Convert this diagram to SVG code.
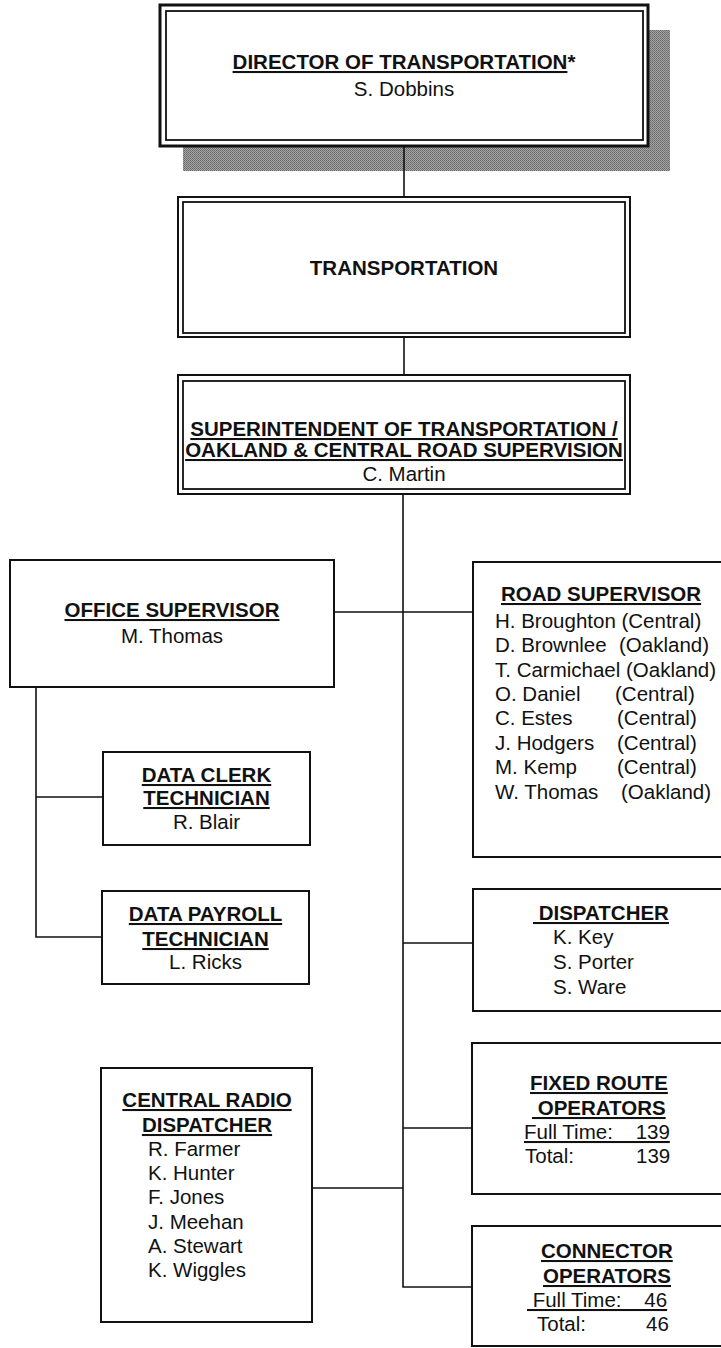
<svg xmlns="http://www.w3.org/2000/svg" width="721" height="1348" viewBox="0 0 721 1348">
  <defs>
    <!-- grainy grey fill for the drop shadow -->
    <pattern id="dither" width="2" height="2" patternUnits="userSpaceOnUse">
      <rect width="2" height="2" fill="#a4a4a4"/>
      <rect width="1" height="1" fill="#686868"/>
      <rect x="1" y="1" width="1" height="1" fill="#787878"/>
    </pattern>
    <style>
      .box{fill:#fff;stroke:#111;stroke-width:2}
      .inner{fill:none;stroke:#111;stroke-width:1.8}
      .wire{fill:none;stroke:#111;stroke-width:1.6}
      text{font-family:"Liberation Sans",Arial,sans-serif;font-size:20.5px;fill:#111}
      .b{font-weight:bold}
      .u{text-decoration:underline}
      .c{text-anchor:middle}
    </style>
  </defs>
  <rect width="721" height="1348" fill="#fff"/>

  <!-- top box with drop shadow -->
  <g id="director">
    <rect x="183" y="30" width="487" height="141" fill="url(#dither)"/>
    <rect x="160" y="5" width="488" height="141" fill="#fff" stroke="#111" stroke-width="3"/>
    <rect x="166" y="11" width="477" height="129" class="inner"/>
    <text class="b c" x="404" y="69"><tspan class="u">DIRECTOR OF TRANSPORTATION</tspan>*</text>
    <text class="c" x="404" y="96">S. Dobbins</text>
  </g>

  <!-- connectors -->
  <g id="connectors" class="wire">
    <line x1="404" y1="146" x2="404" y2="197"/>
    <line x1="404" y1="337" x2="404" y2="375"/>
    <polyline points="403,494 403,1287 472,1287"/>
    <line x1="334" y1="612" x2="473" y2="612"/>
    <line x1="403" y1="943" x2="473" y2="943"/>
    <line x1="403" y1="1128" x2="472" y2="1128"/>
    <line x1="312" y1="1188" x2="403" y2="1188"/>
    <polyline points="36,687 36,937 102,937"/>
    <line x1="36" y1="797" x2="103" y2="797"/>
  </g>

  <g id="transportation">
    <rect x="178" y="197" width="452" height="140" class="box" stroke-width="1.4"/>
    <rect x="183" y="202" width="442" height="131" class="inner"/>
    <text class="b c" x="404" y="275">TRANSPORTATION</text>
  </g>

  <g id="superintendent">
    <rect x="178" y="375" width="452" height="119" class="box" stroke-width="1.4"/>
    <rect x="183" y="381" width="442" height="108" class="inner"/>
    <text class="b u c" x="404" y="436">SUPERINTENDENT OF TRANSPORTATION /</text>
    <text class="b u c" x="404" y="457">OAKLAND &amp; CENTRAL ROAD SUPERVISION</text>
    <text class="c" x="404" y="481">C. Martin</text>
  </g>

  <g id="office-supervisor">
    <rect x="10" y="560" width="324" height="127" class="box"/>
    <text class="b u c" x="172" y="617">OFFICE SUPERVISOR</text>
    <text class="c" x="172" y="643">M. Thomas</text>
  </g>

  <g id="road-supervisor">
    <rect x="473" y="562" width="260" height="295" class="box"/>
    <text class="b u" x="501" y="601">ROAD SUPERVISOR</text>
    <text x="495" y="628">H. Broughton (Central)</text>
    <text x="495" y="652">D. Brownlee<tspan x="619">(Oakland)</tspan></text>
    <text x="495" y="677">T. Carmichael (Oakland)</text>
    <text x="495" y="701">O. Daniel<tspan x="615">(Central)</tspan></text>
    <text x="495" y="725">C. Estes<tspan x="617">(Central)</tspan></text>
    <text x="495" y="750">J. Hodgers<tspan x="617">(Central)</tspan></text>
    <text x="495" y="774">M. Kemp<tspan x="617">(Central)</tspan></text>
    <text x="495" y="799">W. Thomas<tspan x="621">(Oakland)</tspan></text>
  </g>

  <g id="data-clerk">
    <rect x="103" y="752" width="207" height="93" class="box"/>
    <text class="b u c" x="206.5" y="782">DATA CLERK</text>
    <text class="b u c" x="206.5" y="805">TECHNICIAN</text>
    <text class="c" x="206.5" y="829">R. Blair</text>
  </g>

  <g id="data-payroll">
    <rect x="102" y="891" width="207" height="93" class="box"/>
    <text class="b u c" x="205.5" y="921">DATA PAYROLL</text>
    <text class="b u c" x="205.5" y="946">TECHNICIAN</text>
    <text class="c" x="205.5" y="969">L. Ricks</text>
  </g>

  <g id="dispatcher">
    <rect x="473" y="889" width="260" height="122" class="box"/>
    <text class="b u" x="533" y="920" xml:space="preserve"> DISPATCHER</text>
    <text x="553" y="944">K. Key</text>
    <text x="553" y="969">S. Porter</text>
    <text x="553" y="994">S. Ware</text>
  </g>

  <g id="central-radio">
    <rect x="101" y="1068" width="211" height="254" class="box"/>
    <text class="b u c" x="207" y="1107">CENTRAL RADIO</text>
    <text class="b u c" x="207" y="1132">DISPATCHER</text>
    <text x="148" y="1156">R. Farmer</text>
    <text x="148" y="1180">K. Hunter</text>
    <text x="148" y="1204">F. Jones</text>
    <text x="148" y="1229">J. Meehan</text>
    <text x="148" y="1253">A. Stewart</text>
    <text x="148" y="1277">K. Wiggles</text>
  </g>

  <g id="fixed-route">
    <rect x="472" y="1043" width="260" height="151" class="box"/>
    <text class="b u" x="530" y="1090">FIXED ROUTE</text>
    <text class="b u" x="532" y="1115" xml:space="preserve"> OPERATORS</text>
    <text class="u" x="524" y="1139" xml:space="preserve">Full Time:    139</text>
    <text x="525" y="1163">Total:<tspan x="636">139</tspan></text>
  </g>

  <g id="connector-operators">
    <rect x="472" y="1226" width="260" height="120" class="box"/>
    <text class="b u" x="541" y="1258">CONNECTOR</text>
    <text class="b u" x="543" y="1283">OPERATORS</text>
    <text class="u" x="527" y="1307" xml:space="preserve"> Full Time:    46</text>
    <text x="537" y="1331">Total:<tspan x="646">46</tspan></text>
  </g>
</svg>
